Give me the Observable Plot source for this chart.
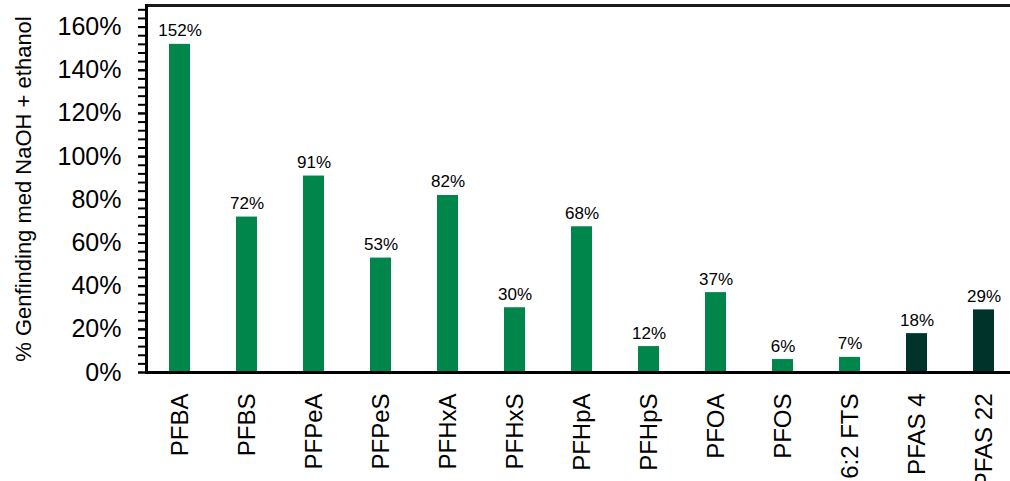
<!DOCTYPE html>
<html><head><meta charset="utf-8">
<script src="https://cdn.jsdelivr.net/npm/d3@7"></script>
<script src="https://cdn.jsdelivr.net/npm/@observablehq/plot@0.6"></script>
<style>body{margin:0;background:#fff}svg{font-family:"Liberation Sans",Arial,sans-serif}</style>
</head><body><div id="chart"></div>
<script>
const categories = ["PFBA","PFBS","PFPeA","PFPeS","PFHxA","PFHxS","PFHpA","PFHpS","PFOA","PFOS","6:2 FTS","PFAS 4","PFAS 22"];
const values = [1.52,0.72,0.91,0.53,0.82,0.30,0.675,0.12,0.37,0.06,0.07,0.18,0.29];
const labels = ["152%","72%","91%","53%","82%","30%","68%","12%","37%","6%","7%","18%","29%"];
const groups = ["single","single","single","single","single","single","single","single","single","single","single","sum","sum"];
const yTicks = [0,0.2,0.4,0.6,0.8,1.0,1.2,1.4,1.6];
const yMinor = d3.range(0,43).map(i=>i*0.04);
const data = categories.map((c,i)=>({c, v:values[i], l:labels[i], g:groups[i]}));
const plot = Plot.plot({
  width:1010, height:481,
  marginLeft:146, marginRight:-7, marginTop:5, marginBottom:109,
  x:{domain:categories, padding:0},
  y:{domain:[0,1.7]},
  color:{domain:["single","sum"], range:["#00854a","#00332a"]},
  marks:[
    Plot.barY(data,{x:"c", y:"v", fill:"g", insetLeft:23, insetRight:23}),
    Plot.text(data,{x:"c", y:"v", text:"l", dy:-8, lineAnchor:"bottom", fontSize:17, fill:"#000"}),
    Plot.axisY({ticks:yMinor, tickSize:8, tickFormat:()=>"", stroke:"#000", strokeWidth:2, label:null}),
    Plot.axisY({ticks:yTicks, tickSize:8, tickPadding:17, tickFormat:d=>Math.round(d*100)+"%", fontSize:25, fill:"#000", stroke:"#000", strokeWidth:2, label:null}),
    Plot.axisX({tickRotate:-90, tickSize:0, tickPadding:21, fontSize:24, fill:"#000", label:null}),
    Plot.ruleY([0],{stroke:"#000", strokeWidth:3}),
    Plot.ruleY([1.7],{stroke:"#1a1a1a", strokeWidth:3}),
    Plot.frame({anchor:"left", stroke:"#000", strokeWidth:3}),
    Plot.text(["% Genfinding med NaOH + ethanol"],{frameAnchor:"left", textAnchor:"middle", dx:-123, rotate:-90, fontSize:22, fill:"#000"})
  ]
});
document.getElementById("chart").append(plot);
</script></body></html>
